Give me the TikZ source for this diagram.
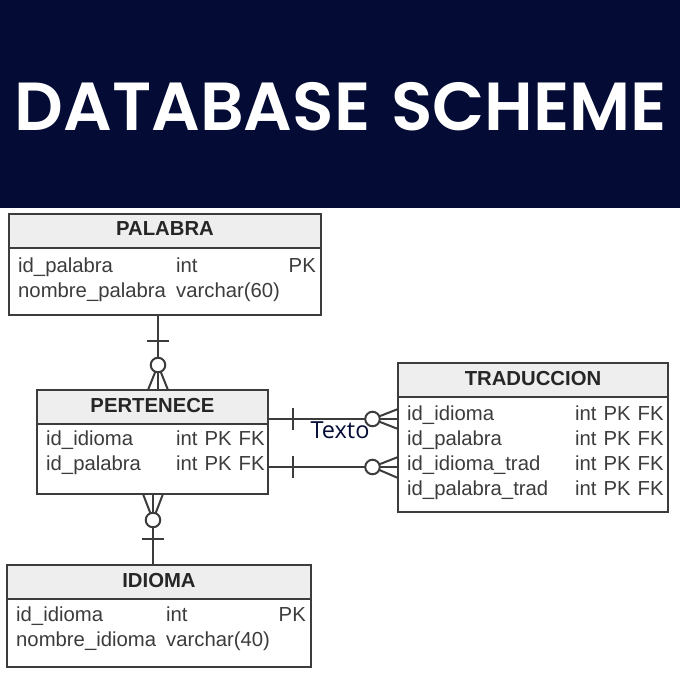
\documentclass[tikz,border=0pt]{standalone}
\usepackage{fontspec}
\usetikzlibrary{calc}
\setmainfont{Liberation Sans}
\newfontfamily\titlefont[WordSpace=1.3]{Poppins SemiBold}
\newfontfamily\labelfont{Open Sans}
\newcommand{\headtext}[1]{\raisebox{4pt}{#1}}
\newcommand{\keytext}[1]{\spaceskip=7pt\relax #1}
\definecolor{navy}{HTML}{040C35}
\definecolor{ink}{HTML}{3C3C3C}
\definecolor{headfill}{HTML}{EEEEEE}
\tikzset{
 x=1pt,y=-1pt,
 tablebox/.style={draw=ink,line width=2pt,anchor=north west,inner sep=0pt,outer sep=0pt},
 headbox/.style={draw=ink,line width=2pt,fill=headfill,anchor=north west,inner sep=0pt,outer sep=0pt,font=\fontsize{20.3}{22}\selectfont\bfseries,text=black!85},
 cell/.style={anchor=base west,inner sep=0pt,font=\fontsize{20.3}{22}\selectfont,text=ink},
 link/.style={draw=ink,line width=2pt},
 ring/.style={circle,draw=ink,line width=2pt,fill=white,minimum size=14.5pt,inner sep=0pt,outer sep=0pt},
}
\begin{document}
\begin{tikzpicture}
\useasboundingbox (0,0) rectangle (680,680);
\fill[white] (0,0) rectangle (680,680);
\fill[navy] (0,0) rectangle (680,208);
\node[inner sep=0pt,text=white,font=\fontsize{68}{72}\selectfont\titlefont] (title) at (341,107) {DATABASE SCHEME};

% tables
\node[tablebox,minimum width=312pt,minimum height=101pt] (palabra) at (9,214) {};
\node[headbox,minimum width=312pt,minimum height=34pt] (palabrah) at (9,214) {\headtext{PALABRA}};
\node[cell] (p1) at (18,272) {id\_palabra};
\node[cell] (p2) at (176,272) {int};
\node[cell,anchor=base east] (p3) at (316,272) {PK};
\node[cell] (p4) at (18,297) {nombre\_palabra};
\node[cell] (p5) at (176,297) {varchar(60)};

\node[tablebox,minimum width=231pt,minimum height=104pt] (pertenece) at (37,390) {};
\node[headbox,minimum width=231pt,minimum height=34pt] (perteneceh) at (37,390) {\headtext{PERTENECE}};
\node[cell] (e1) at (46,445.5) {id\_idioma};
\node[cell] (e2) at (176,445.5) {\keytext{int PK FK}};
\node[cell] (e3) at (46,470.5) {id\_palabra};
\node[cell] (e4) at (176,470.5) {\keytext{int PK FK}};

\node[tablebox,minimum width=270pt,minimum height=149pt] (traduccion) at (398,363) {};
\node[headbox,minimum width=270pt,minimum height=34pt] (traduccionh) at (398,363) {\headtext{TRADUCCION}};
\node[cell] (t1) at (407,420) {id\_idioma};
\node[cell] (t2) at (575,420) {\keytext{int PK FK}};
\node[cell] (t3) at (407,445) {id\_palabra};
\node[cell] (t4) at (575,445) {\keytext{int PK FK}};
\node[cell] (t5) at (407,470) {id\_idioma\_trad};
\node[cell] (t6) at (575,470) {\keytext{int PK FK}};
\node[cell] (t7) at (407,495) {id\_palabra\_trad};
\node[cell] (t8) at (575,495) {\keytext{int PK FK}};

\node[tablebox,minimum width=304pt,minimum height=102pt] (idioma) at (7,565) {};
\node[headbox,minimum width=304pt,minimum height=34pt] (idiomah) at (7,565) {\headtext{IDIOMA}};
\node[cell] (i1) at (16,621) {id\_idioma};
\node[cell] (i2) at (166,621) {int};
\node[cell,anchor=base east] (i3) at (306,621) {PK};
\node[cell] (i4) at (16,646) {nombre\_idioma};
\node[cell] (i5) at (166,646) {varchar(40)};

% anchors for the connectors
\coordinate (barA) at (158,341);
\coordinate (barB) at (153,539);
\coordinate (barC) at (293,419);
\coordinate (barD) at (293,467);
\coordinate (footA1) at (148,390);
\coordinate (footA2) at (168,390);
\coordinate (footB1) at (143,494);
\coordinate (footB2) at (163,494);
\coordinate (footC1) at (398,409);
\coordinate (footC2) at (398,429);
\coordinate (footD1) at (398,457);
\coordinate (footD2) at (398,478);

% palabra - pertenece
\draw[link] (palabra.south -| barA) -- (pertenece.north -| barA);
\draw[link] ($(barA)+(-11,0)$) -- ($(barA)+(11,0)$);
\node[ring] (ringA) at (158,365) {};
\draw[link] (ringA) -- (footA1);
\draw[link] (ringA) -- (footA2);

% pertenece - idioma
\draw[link] (pertenece.south -| barB) -- (idioma.north -| barB);
\draw[link] ($(barB)+(-11,0)$) -- ($(barB)+(11,0)$);
\node[ring] (ringB) at (153,520) {};
\draw[link] (ringB) -- (footB1);
\draw[link] (ringB) -- (footB2);

% pertenece - traduccion
\draw[link] (pertenece.east |- barC) -- (traduccion.west |- barC);
\draw[link] ($(barC)+(0,-11)$) -- ($(barC)+(0,11)$);
\node[ring] (ringC) at (372.5,419) {};
\draw[link] (ringC) -- (footC1);
\draw[link] (ringC) -- (footC2);

\draw[link] (pertenece.east |- barD) -- (traduccion.west |- barD);
\draw[link] ($(barD)+(0,-11)$) -- ($(barD)+(0,11)$);
\node[ring] (ringD) at (372.5,467) {};
\draw[link] (ringD) -- (footD1);
\draw[link] (ringD) -- (footD2);

\node[inner sep=0pt,text=navy,font=\fontsize{23.5}{26}\selectfont\labelfont] (texto) at (340,430) {Texto};
\end{tikzpicture}
\end{document}
